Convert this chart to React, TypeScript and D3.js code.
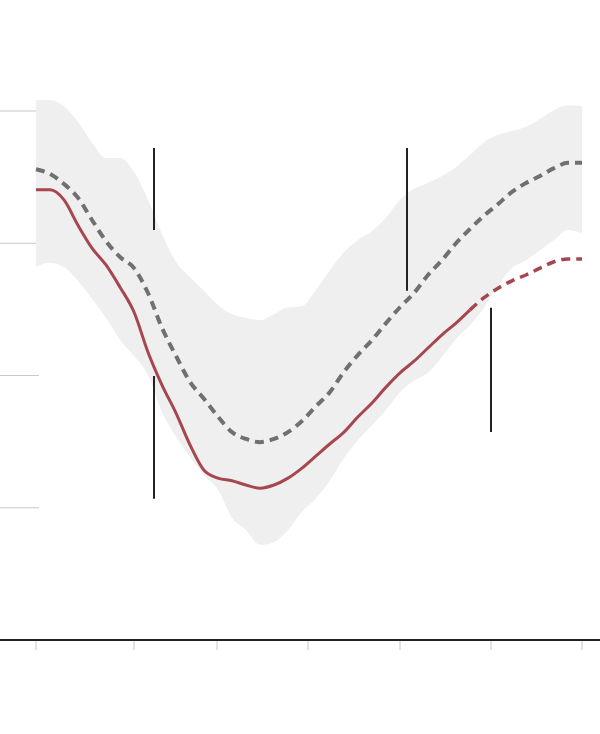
import React from 'react';
import * as d3 from 'd3';

// days since series start, sampled every two weeks
const days = d3.range(0, 547, 14);

const actual = [
  85.1, 85.1, 83.2, 78.4, 74.1, 70.9, 66.7, 62.0, 54.4, 48.2,
  42.9, 36.9, 32.1, 30.6, 30.1, 29.3, 28.7, 29.3, 30.6, 32.5,
  34.8, 37.1, 39.3, 42.2, 44.8, 47.8, 50.5, 52.7, 55.2, 57.7,
  59.9, 62.4, 64.7, 66.5, 67.9, 69.0, 70.3, 71.5, 72.0, 72.0,
];

const baseline = [
  89.0, 88.1, 86.2, 83.6, 79.4, 75.4, 72.4, 70.3, 65.6, 59.0,
  53.7, 48.8, 45.6, 42.2, 39.3, 38.0, 37.4, 38.0, 39.3, 41.4,
  44.2, 46.9, 50.7, 53.9, 56.7, 59.9, 62.9, 65.6, 69.0, 71.8,
  75.0, 77.7, 80.2, 82.4, 84.7, 86.4, 87.7, 89.2, 90.2, 90.2,
];

const rangeHigh = [
  102.1, 102.1, 100.9, 97.9, 94.0, 91.1, 91.1, 88.5, 83.2, 76.7,
  71.5, 68.6, 66.0, 63.3, 61.6, 60.9, 60.5, 61.6, 62.9, 63.1,
  66.2, 69.9, 73.3, 75.6, 77.3, 79.8, 83.2, 85.3, 86.4, 87.7,
  89.4, 91.7, 94.1, 95.5, 96.2, 97.0, 98.5, 100.2, 101.1, 100.9,
];

const rangeLow = [
  70.5, 71.3, 70.5, 67.9, 64.5, 60.9, 56.7, 53.7, 50.1, 43.1,
  38.4, 34.6, 31.2, 28.4, 23.1, 20.8, 18.0, 18.5, 20.8, 24.2,
  26.8, 30.2, 34.4, 37.8, 40.6, 43.5, 46.9, 49.0, 50.5, 53.5,
  56.9, 59.5, 62.8, 66.9, 70.3, 71.8, 73.7, 75.6, 77.5, 76.9,
];

// index where the actual series turns into a projection
const projectedFrom = 31;

const gridValues = [25, 50, 75, 100];
const tickDays = [0, 98, 181, 272, 364, 455, 546];

// vertical annotation markers: [day, from, to]
const markers: [number, number, number][] = [
  [118, 93.0, 77.5],
  [118, 49.9, 26.7],
  [371, 93.0, 66.0],
  [455, 62.8, 39.3],
];

const width = 600;
const height = 734;

export default function App() {
  const x = d3.scaleLinear().domain([0, 546]).range([36, 582]);
  const y = d3.scaleLinear().domain([0, 100]).range([640, 111]);

  const pts = days.map((d, i) => ({
    d,
    a: actual[i],
    b: baseline[i],
    hi: rangeHigh[i],
    lo: rangeLow[i],
  }));

  const area = d3
    .area<any>()
    .x((p) => x(p.d))
    .y0((p) => y(p.lo))
    .y1((p) => y(p.hi))
    .curve(d3.curveMonotoneX);

  const lineA = d3
    .line<any>()
    .x((p) => x(p.d))
    .y((p) => y(p.a))
    .curve(d3.curveMonotoneX);

  const lineB = d3
    .line<any>()
    .x((p) => x(p.d))
    .y((p) => y(p.b))
    .curve(d3.curveMonotoneX);

  const red = '#a6474f';
  const y0 = y(0);

  return (
    <svg
      width={width}
      height={height}
      style={{ position: 'absolute', left: 0, top: 0, background: '#fff' }}
    >
      {gridValues.map((v) => (
        <line key={v} x1={0} x2={39} y1={y(v)} y2={y(v)} stroke="#c8c8c8" strokeWidth={1} />
      ))}

      <path d={area(pts) || ''} fill="#efefef" />

      <path
        d={lineB(pts) || ''}
        fill="none"
        stroke="#707070"
        strokeWidth={4}
        strokeDasharray="9 6"
      />

      <path
        d={lineA(pts.slice(0, projectedFrom + 1)) || ''}
        fill="none"
        stroke={red}
        strokeWidth={3}
        strokeLinejoin="round"
      />
      <path
        d={lineA(pts.slice(projectedFrom)) || ''}
        fill="none"
        stroke={red}
        strokeWidth={3.5}
        strokeDasharray="9 6"
      />

      {markers.map(([d, a, b], i) => (
        <line key={i} x1={x(d)} x2={x(d)} y1={y(a)} y2={y(b)} stroke="#222" strokeWidth={2} />
      ))}

      {tickDays.map((d) => (
        <line key={d} x1={x(d)} x2={x(d)} y1={y0 + 1} y2={y0 + 10} stroke="#c8c8c8" strokeWidth={1} />
      ))}
      <line x1={0} x2={width} y1={y0} y2={y0} stroke="#222" strokeWidth={2} />
    </svg>
  );
}
